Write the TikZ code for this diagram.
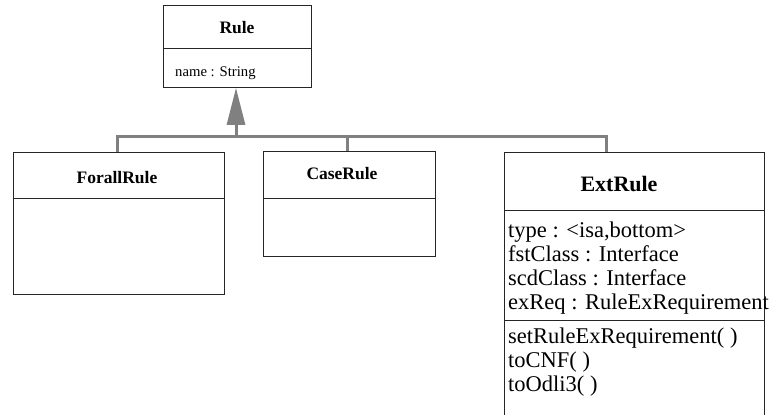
\documentclass[tikz,border=0pt]{standalone}
\usepackage{fontspec}
\setmainfont{Liberation Serif}
\usetikzlibrary{arrows.meta,positioning}

\begin{document}
\begin{tikzpicture}[
  x=1pt, y=-1pt,
  umlbox/.style={draw=black!85, line width=.9pt, inner sep=0pt, anchor=north west},
  divider/.style={draw=black!85, line width=.9pt},
  title/.style={inner sep=0pt, anchor=base, font=\fontsize{17.5}{20}\selectfont\bfseries},
  bigtitle/.style={title, font=\fontsize{22}{24}\selectfont\bfseries},
  member/.style={inner sep=0pt, anchor=base west, font=\fontsize{22.5}{24}\selectfont},
  smallmember/.style={member, font=\fontsize{14.7}{17}\selectfont},
  bus/.style={draw=black!50, line width=3pt},
  gen/.style={bus, -{Triangle[length=37pt,width=18pt]}}
]
\clip (0,0) rectangle (769,415);

% classes
\node[umlbox, minimum width=148pt, minimum height=82pt] (rule) at (163,5) {};
\node[umlbox, minimum width=211pt, minimum height=142pt] (forall) at (13,152) {};
\node[umlbox, minimum width=172pt, minimum height=105pt] (case) at (263,151) {};
\node[umlbox, minimum width=260pt, minimum height=290pt] (ext) at (504,152) {};

\draw[divider] ([yshift=-43pt]rule.north west) -- ([yshift=-43pt]rule.north east);
\draw[divider] ([yshift=-46pt]forall.north west) -- ([yshift=-46pt]forall.north east);
\draw[divider] ([yshift=-47pt]case.north west) -- ([yshift=-47pt]case.north east);
\draw[divider] ([yshift=-58pt]ext.north west) -- ([yshift=-58pt]ext.north east);
\draw[divider] ([yshift=-168pt]ext.north west) -- ([yshift=-168pt]ext.north east);

% names and members
\node[title] (rulename) at (237,33) {Rule};
\node[smallmember] (ruleattr) at (175,76) {name : String};
\node[title] (forallname) at (117,183) {ForallRule};
\node[title] (casename) at (342,179) {CaseRule};
\node[bigtitle] (extname) at (619,191) {ExtRule};
\foreach \txt [count=\i] in {{type : <isa,bottom>}, {fstClass : Interface},
    {scdClass : Interface}, {exReq : RuleExRequirement}}
  \node[member] (extattr\i) at (508,213+24*\i) {\txt};
\foreach \txt [count=\i] in {setRuleExRequirement( ), toCNF( ), toOdli3( )}
  \node[member] (extop\i) at (508,319+24*\i) {\txt};

% generalization
\coordinate (hub) at (236,136);
\coordinate (forallend) at (117,152);
\coordinate (caseend) at (347,151);
\coordinate (extend) at (606,152);
\draw[bus] (forallend) |- (hub) -| (extend);
\draw[bus] (caseend) -- (caseend |- hub);
\draw[gen] (hub) -- (hub |- rule.south);
\end{tikzpicture}
\end{document}
